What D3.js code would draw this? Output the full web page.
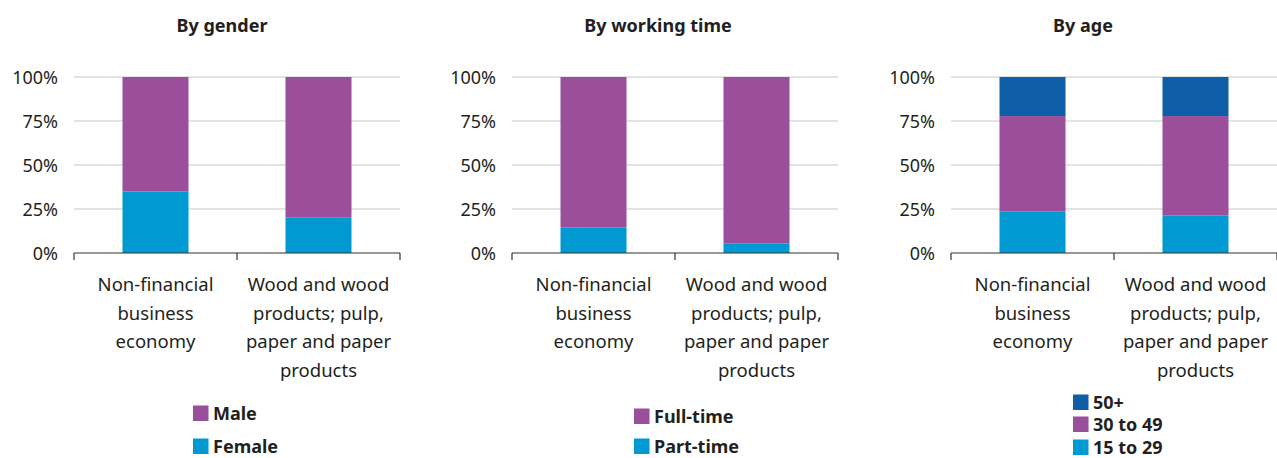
<!DOCTYPE html>
<html><head><meta charset="utf-8">
<script src="https://cdn.jsdelivr.net/npm/d3@7"></script>
<style>body{margin:0;background:#fff}svg{display:block}text{font-family:"Noto Sans",sans-serif;fill:#231f20}</style>
</head><body><svg id="c" width="1277" height="458"></svg>
<script>
const categories = ["Non-financial business economy", "Wood and wood products; pulp, paper and paper products"];
const categoryLines = [["Non-financial","business","economy"],["Wood and wood","products; pulp,","paper and paper","products"]];
const yTicks = [0, 25, 50, 75, 100];
const panelTitles = ["By gender", "By working time", "By age"];
// Panel 1: by gender
const genderSeries = ["Female", "Male"];
const female = [35, 20.3];
const male = [65, 79.7];
// Panel 2: by working time
const timeSeries = ["Part-time", "Full-time"];
const partTime = [14.4, 5.3];
const fullTime = [85.6, 94.7];
// Panel 3: by age
const ageSeries = ["15 to 29", "30 to 49", "50+"];
const age15to29 = [23.7, 21.4];
const age30to49 = [54.1, 56.4];
const age50plus = [22.2, 22.2];

const PURPLE = "#9b4f9b", LIGHT = "#0099d1", DARK = "#0e5ea8";

const panels = [
  {title: panelTitles[0], series: genderSeries, values: [female, male], colors: [LIGHT, PURPLE], x0: 74, titleX: 222,
   legend: {x: 193, ys: [453, 420], order: [1, 0]}},
  {title: panelTitles[1], series: timeSeries, values: [partTime, fullTime], colors: [LIGHT, PURPLE], x0: 512, titleX: 658,
   legend: {x: 634, ys: [453, 423], order: [1, 0]}},
  {title: panelTitles[2], series: ageSeries, values: [age15to29, age30to49, age50plus], colors: [LIGHT, PURPLE, DARK], x0: 951, titleX: 1083,
   legend: {x: 1073, ys: [454, 431, 409], order: [2, 1, 0]}}
];

const svg = d3.select("#c");
const W = 326, yTop = 77, yBot = 253;
const y = d3.scaleLinear().domain([0, 100]).range([yBot, yTop]);

panels.forEach(p => {
  const g = svg.append("g");
  const x = d3.scaleBand().domain(categories).range([p.x0, p.x0 + W]).paddingInner(0.595).paddingOuter(0.2975);
  // title
  g.append("text").attr("x", p.titleX).attr("y", 32).attr("text-anchor", "middle")
    .style("font-weight", "bold").style("font-size", "18px").text(p.title);
  // gridlines
  g.selectAll("line.grid").data(yTicks.filter(t => t > 0)).join("line")
    .attr("x1", p.x0).attr("x2", p.x0 + W).attr("y1", d => y(d)).attr("y2", d => y(d))
    .attr("stroke", "#c8c8c8").attr("stroke-width", 1.2);
  // y labels
  g.selectAll("text.yl").data(yTicks).join("text")
    .attr("x", p.x0 - 16).attr("y", d => y(d) + 6.5).attr("text-anchor", "end")
    .style("font-size", "18px").text(d => d + "%");
  // stacked bars
  const stackData = categories.map((c, i) => {
    const o = {cat: c};
    p.series.forEach((s, j) => o[s] = p.values[j][i]);
    return o;
  });
  const stacked = d3.stack().keys(p.series)(stackData);
  stacked.forEach((layer, j) => {
    g.selectAll(null).data(layer).join("rect")
      .attr("x", d => x(d.data.cat)).attr("width", x.bandwidth())
      .attr("y", d => y(d[1])).attr("height", d => y(d[0]) - y(d[1]))
      .attr("fill", p.colors[j]);
  });
  // x axis
  g.append("line").attr("x1", p.x0).attr("x2", p.x0 + W).attr("y1", yBot).attr("y2", yBot)
    .attr("stroke", "#333").attr("stroke-width", 1.2);
  const tickXs = [p.x0, p.x0 + W / 2, p.x0 + W];
  g.selectAll("line.tk").data(tickXs).join("line")
    .attr("x1", d => d).attr("x2", d => d).attr("y1", yBot).attr("y2", yBot + 7)
    .attr("stroke", "#333").attr("stroke-width", 1.2);
  // category labels
  categories.forEach((c, i) => {
    const t = g.append("text").attr("text-anchor", "middle").style("font-size", "18.5px");
    categoryLines[i].forEach((ln, k) => {
      t.append("tspan").attr("x", x(c) + x.bandwidth() / 2).attr("y", 291 + k * 28.5).text(ln);
    });
  });
  // legend
  p.legend.order.forEach((j, k) => {
    const ly = p.legend.ys[j];
    g.append("rect").attr("x", p.legend.x).attr("y", ly - 14.5).attr("width", 15.5).attr("height", 15.5).attr("fill", p.colors[j]);
    g.append("text").attr("x", p.legend.x + 20).attr("y", ly).style("font-weight", "bold").style("font-size", "18px").text(p.series[j]);
  });
});
</script></body></html>
